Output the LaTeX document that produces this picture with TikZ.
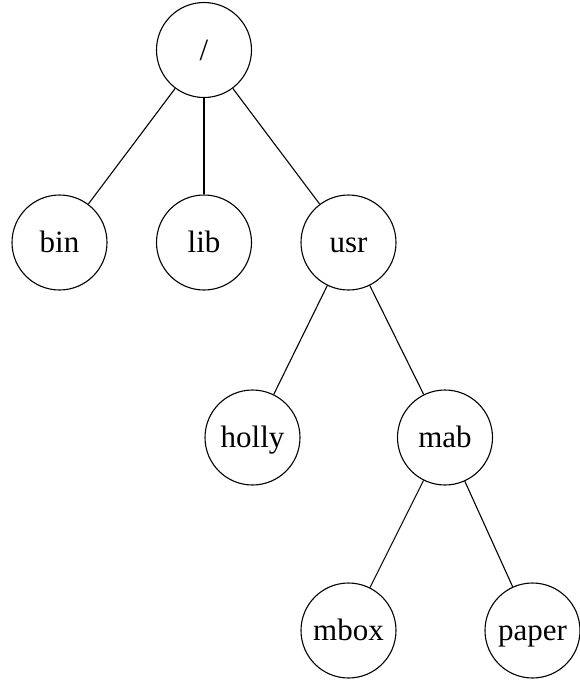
\documentclass[tikz,border=0pt]{standalone}
\usepackage{fontspec}
\setmainfont{Liberation Serif}
\begin{document}
\begin{tikzpicture}[x=1pt,y=-1pt,
  treenode/.style={draw,circle,minimum size=95pt,inner sep=0pt,line width=1.1pt,
    text height=20pt,text depth=0pt,font=\fontsize{31}{36}\selectfont},
  link/.style={line width=1.1pt}]
\useasboundingbox (0,0) rectangle (580,681);
\node[treenode] (root) at (204,50) {/};
\node[treenode] (bin) at (59.5,242.5) {bin};
\node[treenode] (lib) at (204,242.5) {lib};
\node[treenode] (usr) at (348.5,242.5) {usr};
\node[treenode] (holly) at (252.5,437.5) {holly};
\node[treenode] (mab) at (445,437.5) {mab};
\node[treenode] (mbox) at (348.5,630.5) {mbox};
\node[treenode] (paper) at (532.5,630.5) {paper};
\draw[link] (root) -- (bin);
\draw[link] (root) -- (lib);
\draw[link] (root) -- (usr);
\draw[link] (usr) -- (holly);
\draw[link] (usr) -- (mab);
\draw[link] (mab) -- (mbox);
\draw[link] (mab) -- (paper);
\end{tikzpicture}
\end{document}
